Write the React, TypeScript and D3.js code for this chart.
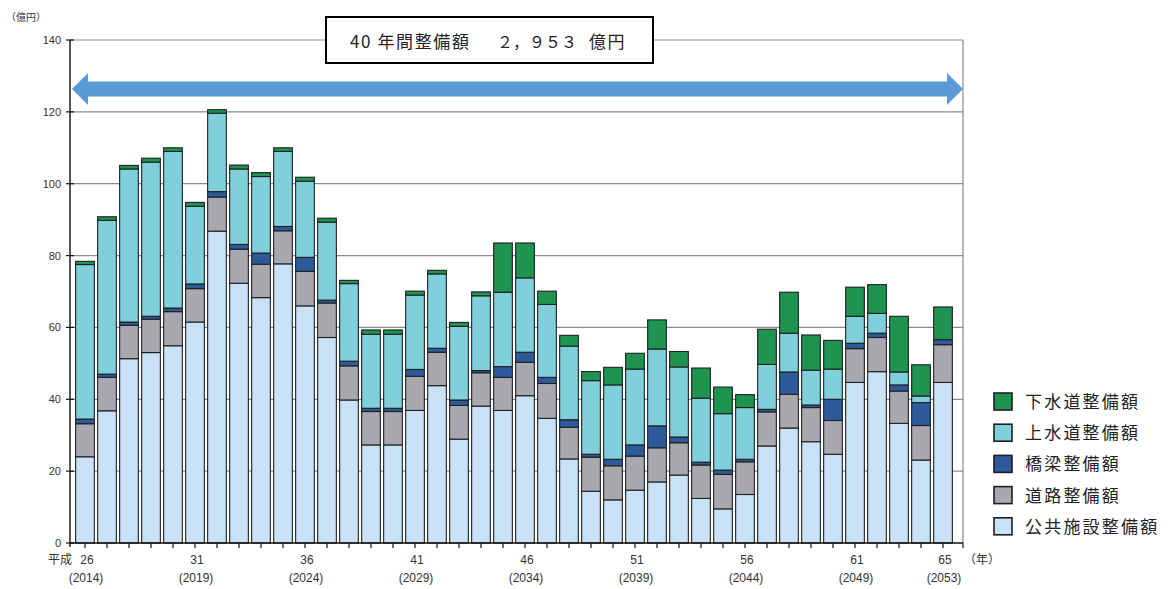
import React from 'react';
import * as d3 from 'd3';

// Fiscal years (平成26 = 2014 ... 平成65 = 2053)
const years = [
  2014, 2015, 2016, 2017, 2018, 2019, 2020, 2021, 2022, 2023,
  2024, 2025, 2026, 2027, 2028, 2029, 2030, 2031, 2032, 2033,
  2034, 2035, 2036, 2037, 2038, 2039, 2040, 2041, 2042, 2043,
  2044, 2045, 2046, 2047, 2048, 2049, 2050, 2051, 2052, 2053,
];

// 公共施設整備額 (億円)
const publicFacilities = [
  24, 36.8, 51.3, 53, 54.9, 61.5, 86.8, 72.3, 68.3, 77.7,
  66, 57.2, 39.8, 27.3, 27.3, 36.9, 43.8, 28.9, 38.1, 36.9,
  41, 34.7, 23.4, 14.4, 12, 14.7, 17, 18.9, 12.4, 9.5,
  13.5, 27, 32, 28.2, 24.7, 44.7, 47.7, 33.3, 23.1, 44.7,
];
// 道路整備額
const roads = [
  9.2, 9.3, 9.3, 9.3, 9.5, 9.3, 9.5, 9.5, 9.3, 9.2,
  9.6, 9.6, 9.5, 9.3, 9.3, 9.5, 9.3, 9.4, 9.3, 9.2,
  9.3, 9.7, 8.8, 9.5, 9.5, 9.5, 9.5, 9, 9.3, 9.6,
  9.1, 9.5, 9.4, 9.5, 9.4, 9.4, 9.5, 9, 9.6, 10.5,
];
// 橋梁整備額
const bridges = [
  1.3, 0.9, 0.9, 0.8, 1.0, 1.3, 1.5, 1.3, 3.1, 1.2,
  3.9, 0.8, 1.3, 0.9, 0.9, 1.9, 1.1, 1.5, 0.6, 3.0,
  2.8, 1.7, 2.1, 0.8, 1.8, 3.1, 6.1, 1.6, 0.8, 1.2,
  0.7, 0.7, 6.2, 0.7, 5.9, 1.5, 1.2, 1.7, 6.4, 1.4,
];
// 上水道整備額
const waterSupply = [
  43, 42.8, 42.6, 42.9, 43.6, 21.6, 21.8, 21, 21.3, 20.9,
  21.2, 21.7, 21.6, 20.6, 20.6, 20.7, 20.7, 20.5, 20.8, 20.7,
  20.7, 20.3, 20.5, 20.5, 20.7, 21.1, 21.4, 19.5, 17.8, 15.7,
  14.4, 12.5, 10.8, 9.7, 8.4, 7.5, 5.5, 3.6, 1.8, 0,
];
// 下水道整備額
const sewerage = [
  0.9, 1.0, 1.0, 1.1, 1.0, 1.1, 1.0, 1.1, 1.1, 1.0,
  1.1, 1.1, 0.9, 1.2, 1.2, 1.1, 1.0, 1.1, 1.1, 13.7,
  9.7, 3.7, 3.0, 2.5, 4.9, 4.4, 8.1, 4.3, 8.4, 7.4,
  3.6, 9.8, 11.4, 9.8, 8.0, 8.1, 8.0, 15.5, 8.7, 9.1,
];

const seriesKeys = ['public', 'road', 'bridge', 'water', 'sewer'];
const seriesNames = ['公共施設整備額', '道路整備額', '橋梁整備額', '上水道整備額', '下水道整備額'];
const seriesColors = ['#C9E1F6', '#A8A8AE', '#2C5A9A', '#7FD0DA', '#1E9450'];

const yTicks = [0, 20, 40, 60, 80, 100, 120, 140];
const labelYears = [2014, 2019, 2024, 2029, 2034, 2039, 2044, 2049, 2053];
const heiseiLabels = ['26', '31', '36', '41', '46', '51', '56', '61', '65'];
const westernLabels = ['(2014)', '(2019)', '(2024)', '(2029)', '(2034)', '(2039)', '(2044)', '(2049)', '(2053)'];

const titleLead = '40 年間整備額';
const titleAmount = '２，９５３';
const titleUnit = '億円';

const FONT = '"Liberation Sans", Arial, "Noto Sans CJK JP", sans-serif';
const CJK = '"Noto Sans CJK JP", "Noto Sans CJK SC", sans-serif';

export default function App() {
  const W = 1171;
  const H = 589;
  const left = 70;
  const right = 963;
  const top = 40;
  const bottom = 543;

  const x = d3
    .scaleBand<string>()
    .domain(years.map(String))
    .range([74, 954])
    .paddingInner(0.15)
    .paddingOuter(0.075);
  const y = d3.scaleLinear().domain([0, 140]).range([bottom, top]);

  const rows = years.map((yr, i) => ({
    year: String(yr),
    public: publicFacilities[i],
    road: roads[i],
    bridge: bridges[i],
    water: waterSupply[i],
    sewer: sewerage[i],
  }));
  const stacked = d3.stack<any>().keys(seriesKeys)(rows);

  const arrowY = 89;
  const arrowL = left + 2;
  const arrowR = right;
  const head = 16;
  const shaftHalf = 7.5;
  const headHalf = 16;
  const arrowPath = [
    [arrowL, arrowY],
    [arrowL + head, arrowY - headHalf],
    [arrowL + head, arrowY - shaftHalf],
    [arrowR - head, arrowY - shaftHalf],
    [arrowR - head, arrowY - headHalf],
    [arrowR, arrowY],
    [arrowR - head, arrowY + headHalf],
    [arrowR - head, arrowY + shaftHalf],
    [arrowL + head, arrowY + shaftHalf],
    [arrowL + head, arrowY + headHalf],
  ];
  const arrowD = d3.line()(arrowPath as [number, number][]) + 'Z';

  const legendOrder = [4, 3, 2, 1, 0];

  return (
    <svg
      width={W}
      height={H}
      style={{ position: 'absolute', left: 0, top: 0, display: 'block', background: '#fff' }}
      fontFamily={FONT}
    >
      {/* gridlines */}
      {yTicks.filter((t) => t > 0).map((t) => (
        <line key={'g' + t} x1={left} x2={right} y1={y(t)} y2={y(t)} stroke="#8c8c8c" strokeWidth={1.2} />
      ))}
      {/* right frame */}
      <line x1={right} x2={right} y1={top} y2={bottom} stroke="#8c8c8c" strokeWidth={1.2} />

      {/* bars */}
      {stacked.map((layer, si) => (
        <g key={seriesKeys[si]}>
          {layer.map((d, i) => {
            const h = y(d[0]) - y(d[1]);
            if (h <= 0) return null;
            return (
              <rect
                key={i}
                x={x(String(years[i]))}
                y={y(d[1])}
                width={x.bandwidth()}
                height={h}
                fill={seriesColors[si]}
                stroke="#1f1f1f"
                strokeWidth={1.1}
              />
            );
          })}
        </g>
      ))}

      {/* axes */}
      <line x1={left} x2={left} y1={top} y2={bottom + 4} stroke="#111" strokeWidth={1.4} />
      <line x1={left} x2={right} y1={bottom} y2={bottom} stroke="#111" strokeWidth={1.4} />
      {yTicks.map((t) => (
        <g key={'yt' + t}>
          <line x1={left - 4} x2={left + 4} y1={y(t)} y2={y(t)} stroke="#111" strokeWidth={1.2} />
          <text x={61} y={y(t) + 4} textAnchor="end" fontSize={11} fill="#333">
            {t}
          </text>
        </g>
      ))}
      {years.map((yr) => (
        <line
          key={'xt' + yr}
          x1={(x(String(yr)) as number) + x.bandwidth() / 2}
          x2={(x(String(yr)) as number) + x.bandwidth() / 2}
          y1={bottom}
          y2={bottom + 5}
          stroke="#111"
          strokeWidth={1.2}
        />
      ))}
      <line x1={right} x2={right} y1={bottom} y2={bottom + 5} stroke="#111" strokeWidth={1.2} />

      {/* x labels */}
      {labelYears.map((yr, i) => {
        const cx = (x(String(yr)) as number) + x.bandwidth() / 2;
        return (
          <g key={'xl' + yr}>
            <text x={cx + 2} y={564} textAnchor="middle" fontSize={12} fill="#333">
              {heiseiLabels[i]}
            </text>
            <text x={cx + 1} y={582} textAnchor="middle" fontSize={12} fill="#333">
              {westernLabels[i]}
            </text>
          </g>
        );
      })}
      <text x={72} y={564} textAnchor="end" fontSize={12} fill="#333" fontFamily={CJK}>
        平成
      </text>
      <text x={964} y={564} fontSize={12} fill="#333" fontFamily={CJK}>
        （年）
      </text>
      <text x={6} y={21} fontSize={10} fill="#333" fontFamily={CJK}>
        （億円）
      </text>

      {/* arrow */}
      <path d={arrowD} fill="#5B9BD5" />

      {/* title box */}
      <rect x={326} y={17} width={327} height={46} fill="#fff" stroke="#000" strokeWidth={2} />
      <text x={350} y={48} fontSize={17} fill="#222" fontFamily={CJK} letterSpacing={1.6}>
        {titleLead}
      </text>
      <text x={497} y={48} fontSize={16} fill="#222" fontFamily={CJK}>
        {titleAmount}
      </text>
      <text x={589} y={48} fontSize={17} fill="#222" fontFamily={CJK} letterSpacing={1.6}>
        {titleUnit}
      </text>

      {/* legend */}
      {legendOrder.map((si, k) => {
        const ly = 393 + k * 31.2;
        return (
          <g key={'lg' + si}>
            <rect x={994} y={ly} width={18} height={17} fill={seriesColors[si]} stroke="#1f1f1f" strokeWidth={1.6} />
            <text x={1025} y={ly + 15} fontSize={17} fill="#222" fontFamily={CJK} letterSpacing={2.2}>
              {seriesNames[si]}
            </text>
          </g>
        );
      })}
    </svg>
  );
}
